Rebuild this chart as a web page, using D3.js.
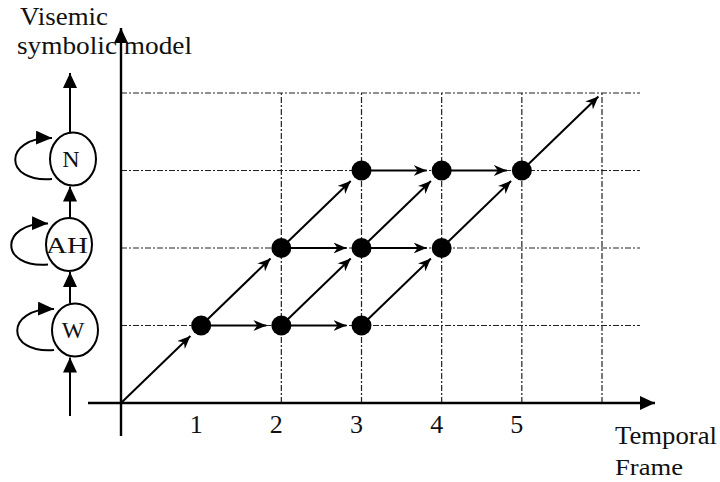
<!DOCTYPE html>
<html>
<head>
<meta charset="utf-8">
<script src="https://cdn.jsdelivr.net/npm/d3@7"></script>
<style>
html,body{margin:0;padding:0;background:#fff;}
svg{display:block;}
text{font-family:"Liberation Serif","Times New Roman",Times,serif;fill:#111;}
</style>
</head>
<body>
<svg id="chart" width="720" height="482"></svg>
<script>
// ---------- data ----------
const states = ["W", "AH", "N"];                 // visemic symbolic model states (bottom to top)
const xTickLabels = ["1", "2", "3", "4", "5"];   // temporal frame tick labels
const xTickValues = [1, 2, 3, 4, 5];
const gridRows = [1, 2, 3, 4];                    // horizontal dashed grid levels
const gridCols = [2, 3, 4, 5, 6];                 // vertical dashed grid frames
const nodes = [[1,1],[2,1],[3,1],[2,2],[3,2],[4,2],[3,3],[4,3],[5,3]];
const diagonalEdges = [[[0,0],[1,1]],[[1,1],[2,2]],[[2,2],[3,3]],[[2,1],[3,2]],[[3,1],[4,2]],[[3,2],[4,3]],[[4,2],[5,3]],[[5,3],[6,4]]];
const horizontalEdges = [[[1,1],[2,1]],[[2,1],[3,1]],[[2,2],[3,2]],[[3,2],[4,2]],[[3,3],[4,3]],[[4,3],[5,3]]];
const yAxisTitle = ["Visemic", "symbolic model"];
const xAxisTitle = ["Temporal", "Frame"];

// ---------- layout ----------
const svg = d3.select("#chart");
const x = d3.scaleLinear().domain([0, 6]).range([121, 602]);
const y = d3.scaleLinear().domain([0, 4]).range([403, 93]);
const sy = d3.scaleLinear().domain([0, 2]).range([330, 159]);   // state diagram
const sxOffsets = [75, 69, 73];

const defs = svg.append("defs");
function marker(id, path, w, h, refX) {
  defs.append("marker").attr("id", id)
    .attr("markerUnits", "userSpaceOnUse")
    .attr("viewBox", `${-w} ${-h/2} ${w} ${h}`)
    .attr("refX", refX).attr("refY", 0)
    .attr("markerWidth", w).attr("markerHeight", h)
    .attr("orient", "auto")
    .append("path").attr("d", path).attr("fill", "#000");
}
marker("stealth", "M0,0 L-13,-5.5 L-9,0 L-13,5.5 Z", 13, 11, 0);
marker("tri", "M0,0 L-15,-7 L-15,7 Z", 15, 14, 0);
marker("loopHead", "M0,0 L-16,-7 L-16,7 Z", 16, 14, 0);

// ---------- grid ----------
const grid = svg.append("g").attr("stroke", "#222").attr("stroke-width", 1.2)
  .attr("stroke-dasharray", "6,2,2,2").attr("fill", "none");
grid.selectAll(".hg").data(gridRows).join("line")
  .attr("x1", x(0)).attr("x2", 640)
  .attr("y1", d => y(d)).attr("y2", d => y(d));
grid.selectAll(".vg").data(gridCols).join("line")
  .attr("x1", d => x(d)).attr("x2", d => x(d))
  .attr("y1", y(0)).attr("y2", y(4));

// ---------- axes ----------
const axes = svg.append("g").attr("stroke", "#000").attr("stroke-width", 2.4);
axes.append("line").attr("x1", 88).attr("x2", 655).attr("y1", y(0)).attr("y2", y(0))
  .attr("marker-end", "url(#tri)");
axes.append("line").attr("x1", x(0)).attr("x2", x(0)).attr("y1", 436).attr("y2", 28)
  .attr("marker-end", "url(#tri)");

svg.append("g").selectAll("text").data(xTickValues).join("text")
  .attr("x", d => x(d) - 5).attr("y", 433)
  .attr("text-anchor", "middle").attr("font-size", 26)
  .text((d, i) => xTickLabels[i]);

// ---------- edges ----------
function shorten(p, q, a, b) {
  const dx = q[0] - p[0], dy = q[1] - p[1], L = Math.hypot(dx, dy);
  return [p[0] + dx * a / L, p[1] + dy * a / L, q[0] - dx * b / L, q[1] - dy * b / L];
}
const nodeR = 10;
const edgeG = svg.append("g").attr("stroke", "#000").attr("stroke-width", 2).attr("fill", "none");
diagonalEdges.concat(horizontalEdges).forEach(([a, b]) => {
  const p = [x(a[0]), y(a[1])], q = [x(b[0]), y(b[1])];
  const endGap = (b[0] === 6) ? 5 : nodeR + 5;
  const s = shorten(p, q, 0, endGap);
  edgeG.append("line").attr("x1", s[0]).attr("y1", s[1]).attr("x2", s[2]).attr("y2", s[3])
    .attr("marker-end", "url(#stealth)");
});

// ---------- nodes ----------
svg.append("g").selectAll("circle").data(nodes).join("circle")
  .attr("cx", d => x(d[0])).attr("cy", d => y(d[1])).attr("r", nodeR).attr("fill", "#000");

// ---------- state diagram ----------
const sg = svg.append("g");
const rx = 23, ry = 26.5;
sg.append("line").attr("x1", 70).attr("x2", 70).attr("y1", 416).attr("y2", sy(0) + ry + 1)
  .attr("stroke", "#000").attr("stroke-width", 2).attr("marker-end", "url(#tri)");
states.forEach((s, i) => {
  const top = sy(i) - ry;
  const targetY = i < states.length - 1 ? sy(i + 1) + ry + 1 : 73;
  sg.append("line").attr("x1", 70).attr("x2", 70).attr("y1", top).attr("y2", targetY)
    .attr("stroke", "#000").attr("stroke-width", 2).attr("marker-end", "url(#tri)");
});
states.forEach((s, i) => {
  const cx = sxOffsets[i], cy = sy(i);
  sg.append("path")
    .attr("d", `M${cx-21},${cy+20} C${cx-70},${cy+24} ${cx-70},${cy-22} ${cx-21},${cy-21}`)
    .attr("fill", "none").attr("stroke", "#000").attr("stroke-width", 2)
    .attr("marker-end", "url(#loopHead)");
});
sg.selectAll("ellipse").data(states).join("ellipse")
  .attr("cx", (d, i) => sxOffsets[i]).attr("cy", (d, i) => sy(i))
  .attr("rx", rx).attr("ry", ry)
  .attr("fill", "#fff").attr("stroke", "#000").attr("stroke-width", 2);
sg.selectAll("text").data(states).join("text")
  .attr("x", (d, i) => sxOffsets[i] - 2).attr("y", (d, i) => sy(i) + 8)
  .attr("text-anchor", "middle").attr("font-size", 24)
  .attr("textLength", d => d === "AH" ? 42 : null)
  .attr("lengthAdjust", "spacingAndGlyphs")
  .text(d => d);

// ---------- titles ----------
const titleFs = 25;
svg.append("text").attr("x", 20).attr("y", 25).attr("font-size", titleFs)
  .attr("textLength", 88).attr("lengthAdjust", "spacingAndGlyphs").text(yAxisTitle[0]);
svg.append("text").attr("x", 17).attr("y", 54).attr("font-size", titleFs)
  .attr("textLength", 175).attr("lengthAdjust", "spacingAndGlyphs").text(yAxisTitle[1]);
svg.append("text").attr("x", 615).attr("y", 444).attr("font-size", 25)
  .attr("textLength", 102).attr("lengthAdjust", "spacingAndGlyphs").text(xAxisTitle[0]);
svg.append("text").attr("x", 615).attr("y", 475).attr("font-size", 24)
  .attr("textLength", 68).attr("lengthAdjust", "spacingAndGlyphs").text(xAxisTitle[1]);
</script>
</body>
</html>
